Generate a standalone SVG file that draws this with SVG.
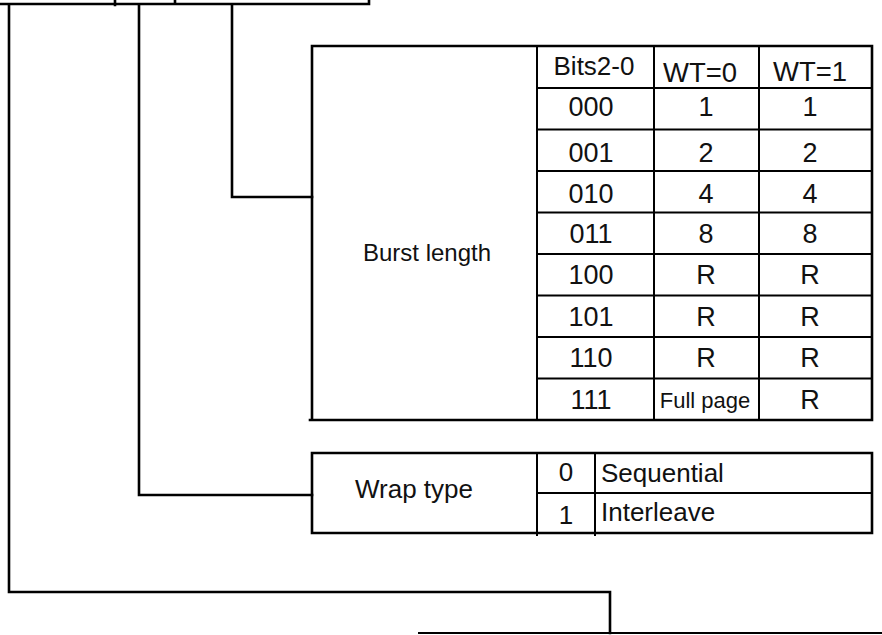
<svg xmlns="http://www.w3.org/2000/svg" width="882" height="635" viewBox="0 0 882 635">
<style>
.ln{stroke:#000;stroke-width:2.6;fill:none;stroke-linecap:square}
.th{stroke:#000;stroke-width:2;fill:none}
.t{font-family:"Liberation Sans",Arial,sans-serif;font-size:26px;fill:#111;text-anchor:middle}
.d{font-size:27px}
.h{font-size:27.5px}
.s{font-size:22px}
.b{font-size:24px}
.l{text-anchor:start}
</style>
<rect width="882" height="635" fill="#fff"/>
<g id="connectors">
<path class="ln" d="M0 4H369V0M115 0V5M175 0V4"/>
<path class="ln" d="M9 5V592H610V633"/>
<path class="th" d="M418 633H882"/>
<path class="ln" d="M139 5V495H312"/>
<path class="ln" d="M232 5V197H312"/>
</g>
<g id="burst-length">
<path class="ln" d="M312 46H872V420H310M312 46V420"/>
<path class="th" d="M537 46V420M654 46V420M759 46V420M537 88H872M537 129.5H872M537 171H872M537 212.5H872M537 254H872M537 295.5H872M537 337H872M537 378.5H872"/>
<text class="t b" x="427" y="261">Burst length</text>
<text class="t" x="594" y="75">Bits2-0</text>
<text class="t h" x="700" y="82">WT=0</text>
<text class="t h" x="810" y="81">WT=1</text>
<g class="t d">
<text x="591" y="116">000</text><text x="706" y="116">1</text><text x="810" y="116">1</text>
<text x="591" y="162">001</text><text x="706" y="162">2</text><text x="810" y="162">2</text>
<text x="591" y="203">010</text><text x="706" y="203">4</text><text x="810" y="203">4</text>
<text x="591" y="243">011</text><text x="706" y="243">8</text><text x="810" y="243">8</text>
<text x="591" y="284">100</text><text x="706" y="284">R</text><text x="810" y="284">R</text>
<text x="591" y="326">101</text><text x="706" y="326">R</text><text x="810" y="326">R</text>
<text x="591" y="367">110</text><text x="706" y="367">R</text><text x="810" y="367">R</text>
<text x="591" y="409">111</text><text x="810" y="409">R</text>
</g>
<text class="t s" x="705" y="408">Full page</text>
</g>
<g id="wrap-type">
<path class="ln" d="M312 453H872V533H312Z"/>
<path class="th" d="M537 453V536M595 453V536M537 493H872"/>
<text class="t" x="414" y="498">Wrap type</text>
<text class="t" x="566" y="481">0</text>
<text class="t" x="566" y="524">1</text>
<text class="t l" x="601" y="482">Sequential</text>
<text class="t l" x="601" y="521">Interleave</text>
</g>
</svg>
